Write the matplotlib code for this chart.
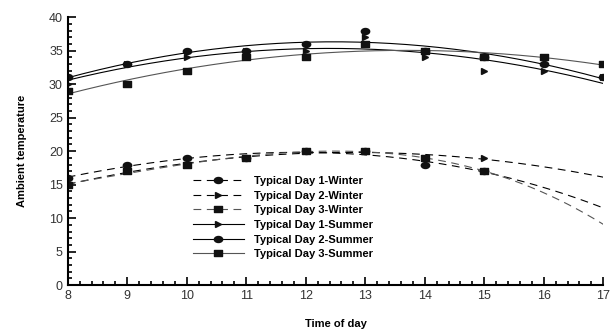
import numpy as np
import matplotlib.pyplot as plt
from matplotlib.path import Path
from matplotlib.transforms import Affine2D
from matplotlib.ticker import MultipleLocator

plt.rcParams['font.family'] = ['Liberation Sans', 'DejaVu Sans']

# measured hours and temperatures
hours_w = [8, 9, 10, 11, 12, 13, 14, 15]
hours_s = [8, 9, 10, 11, 12, 13, 14, 15, 16, 17]

w1 = [16, 18, 19, 19, 20, 20, 18, 17]
w2 = [15, 17, 18, 19, 20, 20, 19, 19]
w3 = [15, 17, 18, 19, 20, 20, 19, 17]

s1 = [30, 33, 34, 35, 35, 37, 34, 32, 32, 31]
s2 = [31, 33, 35, 35, 36, 38, 35, 34, 33, 31]
s3 = [29, 30, 32, 34, 34, 36, 35, 34, 34, 33]

# slightly flattened circle / square markers
ellipse = Path.unit_circle().transformed(Affine2D().scale(1.0, 0.72))
flat_sq = Path([(-1, -0.75), (1, -0.75), (1, 0.75), (-1, 0.75), (-1, -0.75)],
               [1, 2, 2, 2, 79])

# label, x, y, marker, marker size, linestyle, colour, fit degree
series = [
    ("Typical Day 1-Winter", hours_w, w1, ellipse, 6, (0, (7, 5)), "black", 3),
    ("Typical Day 2-Winter", hours_w, w2, ">", 4, (0, (7, 5)), "black", 2),
    ("Typical Day 3-Winter", hours_w, w3, flat_sq, 5.5, (0, (7, 5)), "#555555", 3),
    ("Typical Day 1-Summer", hours_s, s1, ">", 4, "-", "black", 2),
    ("Typical Day 2-Summer", hours_s, s2, ellipse, 6, "-", "black", 2),
    ("Typical Day 3-Summer", hours_s, s3, flat_sq, 5.5, "-", "#555555", 2),
]

fig = plt.figure(figsize=(6.1, 3.3), dpi=100)
ax = fig.add_axes([0.111, 0.136, 0.878, 0.812])

xs = np.linspace(8, 17, 200)
handles = []
for label, x, y, mk, ms, ls, col, deg in series:
    coef = np.polyfit(x, y, deg)
    ax.plot(xs, np.polyval(coef, xs), ls=ls, color=col, lw=0.8)
    ax.plot(x, y, ls="none", marker=mk, color="#111111", ms=ms)
    h, = ax.plot([], [], ls=ls, color=col, lw=0.8, marker=mk, mfc="#111111",
                 mec="#111111", ms=ms)
    handles.append((h, label))

ax.legend([h for h, _ in handles], [l for _, l in handles],
          loc="upper left", bbox_to_anchor=(0.215, 0.445), frameon=False,
          handlelength=4.6, labelspacing=0.42, handletextpad=0.9,
          prop={"weight": "bold", "size": 8})

ax.set_xlim(8, 17)
ax.set_ylim(0, 40)
ax.xaxis.set_major_locator(MultipleLocator(1))
ax.xaxis.set_minor_locator(MultipleLocator(0.2))
ax.yaxis.set_major_locator(MultipleLocator(5))
ax.yaxis.set_minor_locator(MultipleLocator(1))
ax.tick_params(which="both", direction="in", width=1.2, labelsize=9,
               colors="black", labelcolor="#333333")
ax.tick_params(which="major", length=6)
ax.tick_params(which="minor", length=3)
for s in ["top", "right"]:
    ax.spines[s].set_visible(False)
for s in ["left", "bottom"]:
    ax.spines[s].set_linewidth(1.5)

ax.set_xlabel("Time of day", fontsize=8, fontweight="bold", labelpad=12)
ax.set_ylabel("Ambient temperature", fontsize=8, fontweight="bold", labelpad=16)

fig.savefig("out.png", dpi=100)
